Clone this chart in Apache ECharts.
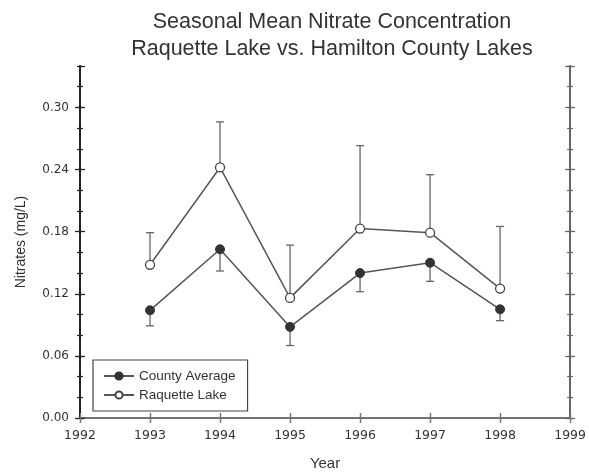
<!DOCTYPE html>
<html>
<head>
<meta charset="utf-8">
<script src="https://cdn.jsdelivr.net/npm/echarts@6/dist/echarts.min.js"></script>
<style>html,body{margin:0;padding:0;background:#fff;}#c{width:589px;height:476px;}</style>
</head>
<body>
<div id="c"></div>
<script>
const titleLines = ['Seasonal Mean Nitrate Concentration', 'Raquette Lake vs. Hamilton County Lakes'];
const years = [1993, 1994, 1995, 1996, 1997, 1998];
const countyAvg = [0.104, 0.163, 0.088, 0.140, 0.150, 0.105];
const countyLow = [0.089, 0.142, 0.070, 0.122, 0.132, 0.094];
const raquette = [0.148, 0.242, 0.116, 0.183, 0.179, 0.125];
const raquetteHigh = [0.179, 0.286, 0.167, 0.263, 0.235, 0.185];
const seriesNames = ['County Average', 'Raquette Lake'];
const xRange = [1992, 1999];
const yRange = [0, 0.34];

const FONT = 'Liberation Sans';
const TXT = '#333';

function xAx(pos, inside, labels, color, len) {
  return {
    type: 'value', position: pos, min: xRange[0], max: xRange[1], interval: 1,
    axisLine: { show: true, lineStyle: { color: color, width: 1.5 } },
    axisTick: { show: true, inside: inside, length: len, lineStyle: { color: color, width: 1.2 } },
    axisLabel: { show: labels, color: TXT, fontFamily: 'DejaVu Sans', fontSize: 12.5, margin: 11, formatter: v => String(v) },
    splitLine: { show: false },
    name: labels ? 'Year' : '', nameLocation: 'middle', nameGap: 38,
    nameTextStyle: { color: TXT, fontFamily: FONT, fontSize: 15 }
  };
}
function yAx(pos, inside, labels, color, len, interval) {
  return {
    type: 'value', position: pos, min: yRange[0], max: yRange[1], interval: interval,
    axisLine: { show: true, lineStyle: { color: color, width: 1.5 } },
    axisTick: { show: true, inside: inside, length: len, lineStyle: { color: color, width: 1.2 } },
    axisLabel: { show: labels, color: TXT, fontFamily: 'DejaVu Sans', fontSize: 12, margin: 11, showMaxLabel: false, formatter: v => v.toFixed(2) },
    splitLine: { show: false },
    name: labels ? 'Nitrates (mg/L)' : '', nameLocation: 'middle', nameGap: 52,
    nameTextStyle: { color: TXT, fontFamily: FONT, fontSize: 14 }
  };
}

const xAxes = [
  xAx('bottom', false, true, '#444', 5),
  xAx('bottom', true, false, '#444', 5),
  xAx('top', false, false, '#777', 5),
  xAx('top', true, false, '#777', 5)
];
const yAxes = [
  yAx('left', false, true, '#222', 5, 0.06),
  yAx('left', true, false, '#222', 5, 0.06),
  yAx('left', false, false, '#222', 3, 0.02),
  yAx('left', true, false, '#222', 3, 0.02),
  yAx('right', false, false, '#666', 5, 0.06),
  yAx('right', true, false, '#666', 5, 0.06),
  yAx('right', false, false, '#666', 3, 0.02),
  yAx('right', true, false, '#666', 3, 0.02)
];

function errRender(params, api) {
  const x = api.value(0);
  const p0 = api.coord([x, api.value(1)]);
  const p1 = api.coord([x, api.value(2)]);
  const st = { stroke: '#666', lineWidth: 1.3 };
  return {
    type: 'group',
    children: [
      { type: 'line', shape: { x1: p0[0], y1: p0[1], x2: p1[0], y2: p1[1] }, style: st },
      { type: 'line', shape: { x1: p1[0] - 4, y1: p1[1], x2: p1[0] + 4, y2: p1[1] }, style: st }
    ]
  };
}

const chart = echarts.init(document.getElementById('c'), null, { renderer: 'canvas' });
chart.setOption({
  backgroundColor: '#fff',
  animation: false,
  title: {
    text: titleLines.join('\n'),
    left: 327, top: 4, textAlign: 'center',
    textStyle: { color: TXT, fontFamily: FONT, fontSize: 21.5, fontWeight: 'normal', lineHeight: 27 }
  },
  grid: { left: 80, right: 18, top: 66, bottom: 58 },
  xAxis: xAxes,
  yAxis: yAxes,
  legend: {
    orient: 'vertical', left: 93, top: 360,
    data: seriesNames,
    itemWidth: 30, itemHeight: 9, itemGap: 5,
    borderColor: '#444', borderWidth: 1.2, padding: [9, 12, 9, 10],
    textStyle: { color: TXT, fontFamily: FONT, fontSize: 13.5 }
  },
  series: [
    {
      type: 'custom', name: 'countyErr', renderItem: errRender, z: 1,
      data: years.map((y, i) => [y, countyAvg[i], countyLow[i]]), encode: { x: 0, y: [1, 2] }
    },
    {
      type: 'custom', name: 'raquetteErr', renderItem: errRender, z: 1,
      data: years.map((y, i) => [y, raquette[i], raquetteHigh[i]]), encode: { x: 0, y: [1, 2] }
    },
    {
      type: 'line', name: seriesNames[0], z: 3,
      data: years.map((y, i) => [y, countyAvg[i]]),
      symbol: 'circle', symbolSize: 9,
      lineStyle: { color: '#555', width: 1.5 },
      itemStyle: { color: '#333', borderColor: '#333', borderWidth: 1 }
    },
    {
      type: 'line', name: seriesNames[1], z: 3,
      data: years.map((y, i) => [y, raquette[i]]),
      symbol: 'circle', symbolSize: 9,
      lineStyle: { color: '#555', width: 1.5 },
      itemStyle: { color: '#fff', borderColor: '#444', borderWidth: 1.3 }
    }
  ]
});
</script>
</body>
</html>
